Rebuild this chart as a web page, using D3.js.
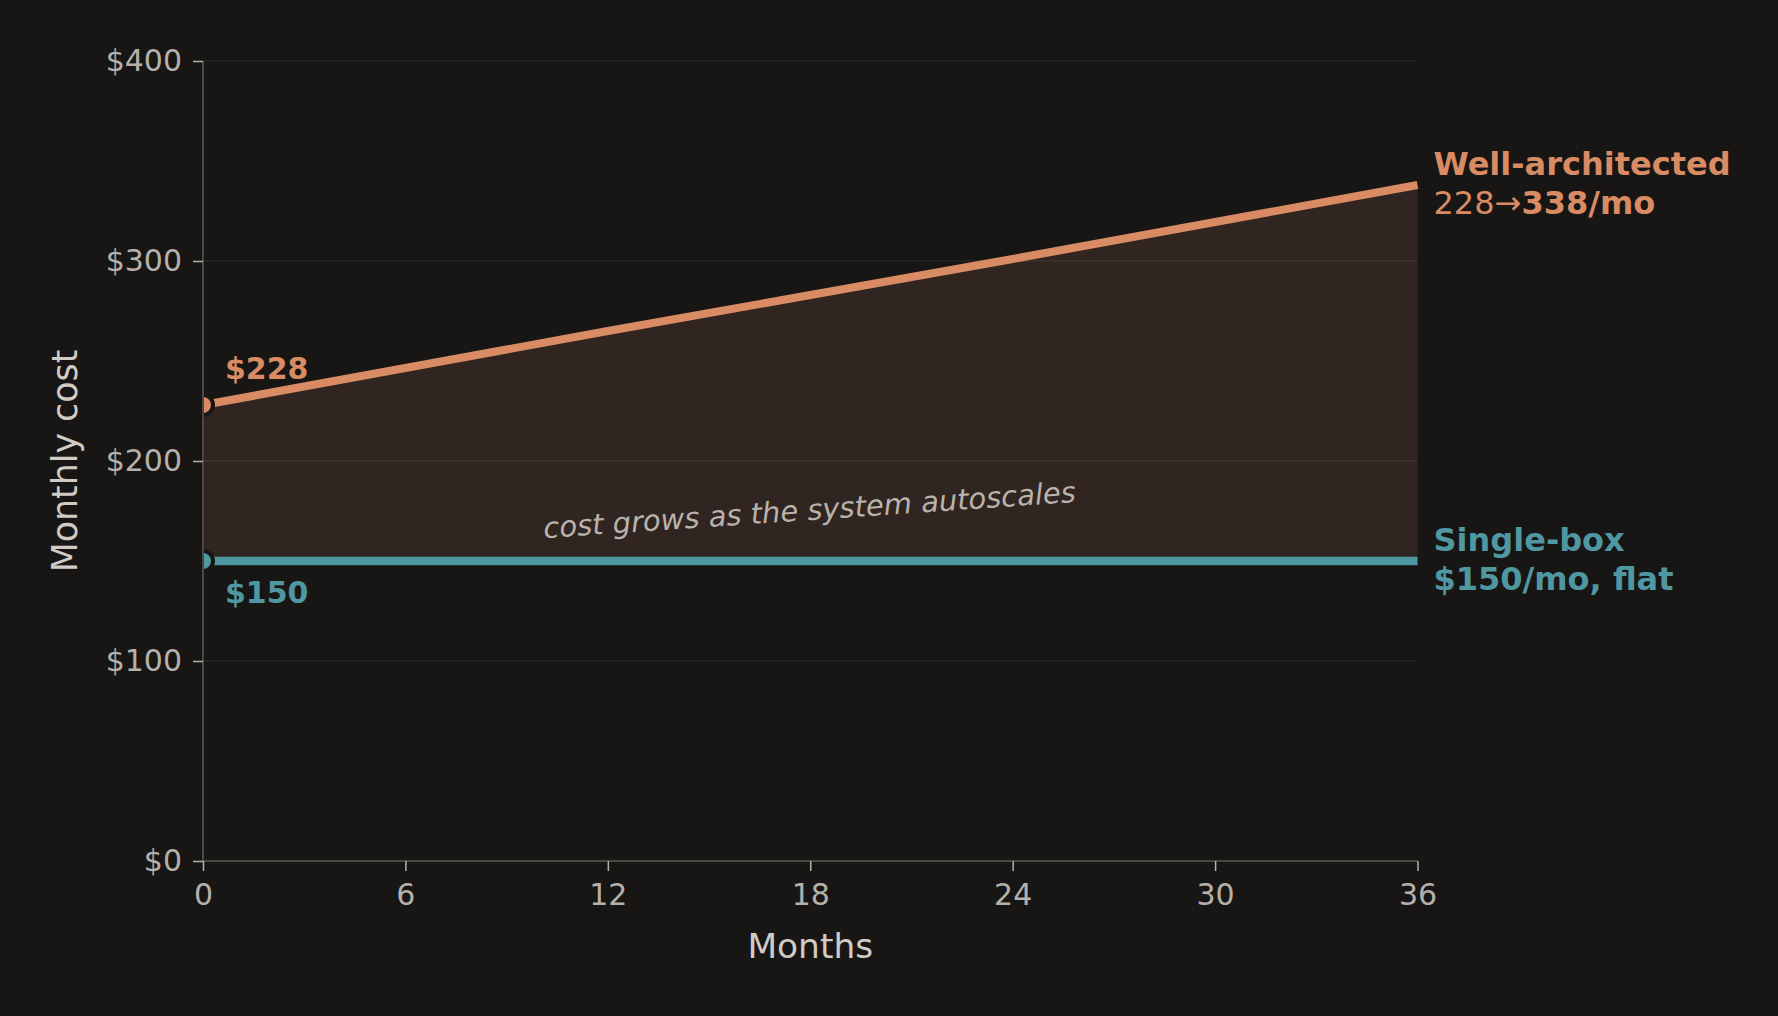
<!DOCTYPE html>
<html>
<head>
<meta charset="utf-8">
<script src="https://cdn.jsdelivr.net/npm/d3@7"></script>
<style>
  body { margin: 0; background: #171615; }
  text { font-family: "DejaVu Sans", sans-serif; }
</style>
</head>
<body>
<div id="chart"></div>
<script>
var svgWidth = 1778;
var svgHeight = 1016;

var margin = { top: 61, right: 360.5, bottom: 155, left: 203 };
var chartWidth = svgWidth - margin.left - margin.right;
var chartHeight = svgHeight - margin.top - margin.bottom;

// data
var months = [0, 12, 24, 36];
var wellArchitected = [228, 265, 301, 338];
var singleBox = [150, 150, 150, 150];
var xTicks = [0, 6, 12, 18, 24, 30, 36];
var yTicks = [0, 100, 200, 300, 400];

var orange = "#d98b64";
var teal = "#4f97a1";
var bg = "#171615";

var svg = d3.select("#chart")
  .append("svg")
  .attr("width", svgWidth)
  .attr("height", svgHeight);

svg.append("rect")
  .attr("width", svgWidth)
  .attr("height", svgHeight)
  .attr("fill", bg);

var chartGroup = svg.append("g")
  .attr("transform", `translate(${margin.left}, ${margin.top})`);

chartGroup.append("clipPath")
  .attr("id", "plotclip")
  .append("rect")
  .attr("width", chartWidth)
  .attr("height", chartHeight);

var xScale = d3.scaleLinear().domain([0, 36]).range([0, chartWidth]);
var yScale = d3.scaleLinear().domain([0, 400]).range([chartHeight, 0]);

var rows = months.map(function(m, i) {
  return { month: m, well: wellArchitected[i], single: singleBox[i] };
});

// shaded gap between the two lines
var area = d3.area()
  .x(d => xScale(d.month))
  .y0(d => yScale(d.single))
  .y1(d => yScale(d.well));

chartGroup.append("path")
  .datum(rows)
  .attr("d", area)
  .attr("fill", "#302520");

// gridlines
chartGroup.append("g")
  .selectAll("line")
  .data(yTicks.filter(t => t > 0))
  .enter()
  .append("line")
  .attr("x1", 0)
  .attr("x2", chartWidth)
  .attr("y1", d => yScale(d))
  .attr("y2", d => yScale(d))
  .attr("stroke", "#ffffff")
  .attr("stroke-opacity", 0.07)
  .attr("stroke-width", 1.5);

// axes
var bottomAxis = d3.axisBottom(xScale).tickValues(xTicks).tickSize(10).tickPadding(13);
var leftAxis = d3.axisLeft(yScale).tickValues(yTicks).tickSize(10).tickPadding(11)
  .tickFormat(d => "$" + d);

var xAxisG = chartGroup.append("g")
  .attr("transform", `translate(0, ${chartHeight})`)
  .call(bottomAxis);

var yAxisG = chartGroup.append("g")
  .call(leftAxis);

[xAxisG, yAxisG].forEach(function(g) {
  g.select(".domain").attr("stroke", "#4a4845").attr("stroke-width", 2);
  g.selectAll(".tick line").attr("stroke", "#b5b0aa").attr("stroke-width", 1.5);
  g.selectAll(".tick text")
    .attr("fill", "#b5b0aa")
    .attr("font-size", "30px")
    .attr("font-family", "DejaVu Sans, sans-serif");
});
yAxisG.select(".domain").attr("d", `M0,${chartHeight}V0`);
xAxisG.select(".domain").attr("d", `M0,0H${chartWidth}`);

chartGroup.append("text")
  .attr("x", chartWidth / 2)
  .attr("y", chartHeight + 97)
  .attr("text-anchor", "middle")
  .attr("fill", "#d0cbc5")
  .attr("font-size", "34.4px")
  .text("Months");

chartGroup.append("text")
  .attr("transform", "rotate(-90)")
  .attr("x", -chartHeight / 2)
  .attr("y", -126)
  .attr("text-anchor", "middle")
  .attr("fill", "#d0cbc5")
  .attr("font-size", "34.8px")
  .text("Monthly cost");

// lines
var lineWell = d3.line().x(d => xScale(d.month)).y(d => yScale(d.well));
var lineSingle = d3.line().x(d => xScale(d.month)).y(d => yScale(d.single));

chartGroup.append("path")
  .datum(rows)
  .attr("d", lineSingle)
  .attr("fill", "none")
  .attr("stroke", teal)
  .attr("stroke-width", 8.5);

chartGroup.append("path")
  .datum(rows)
  .attr("d", lineWell)
  .attr("fill", "none")
  .attr("stroke", orange)
  .attr("stroke-width", 8);

// start dots, clipped to the plot
var dots = chartGroup.append("g").attr("clip-path", "url(#plotclip)");
[[wellArchitected[0], orange], [singleBox[0], teal]].forEach(function(p) {
  dots.append("circle")
    .attr("cx", xScale(months[0]))
    .attr("cy", yScale(p[0]))
    .attr("r", 10)
    .attr("fill", p[1])
    .attr("stroke", bg)
    .attr("stroke-width", 4);
});
yAxisG.raise();

// start value labels
chartGroup.append("text")
  .attr("x", xScale(months[0]) + 22)
  .attr("y", yScale(wellArchitected[0]) - 26)
  .attr("fill", orange)
  .attr("font-size", "30px")
  .attr("font-weight", "bold")
  .text("$" + wellArchitected[0]);

chartGroup.append("text")
  .attr("x", xScale(months[0]) + 22)
  .attr("y", yScale(singleBox[0]) + 42)
  .attr("fill", teal)
  .attr("font-size", "30px")
  .attr("font-weight", "bold")
  .text("$" + singleBox[0]);

// end labels
var last = months.length - 1;
var endX = xScale(months[last]) + 16;

var wellLabel = chartGroup.append("text")
  .attr("x", endX)
  .attr("y", yScale(wellArchitected[last]) - 10)
  .attr("fill", orange)
  .attr("font-size", "32px");
wellLabel.append("tspan").attr("font-weight", "bold").text("Well-architected");
var l2 = wellLabel.append("tspan").attr("x", endX).attr("dy", 38.5);
l2.append("tspan").text(wellArchitected[0] + "→");
l2.append("tspan").attr("font-weight", "bold").text(wellArchitected[last] + "/mo");

var singleLabel = chartGroup.append("text")
  .attr("x", endX)
  .attr("y", yScale(singleBox[last]) - 10)
  .attr("fill", teal)
  .attr("font-size", "32px")
  .attr("font-weight", "bold");
singleLabel.append("tspan").text("Single-box");
singleLabel.append("tspan").attr("x", endX).attr("dy", 39).text("$" + singleBox[last] + "/mo, flat");

// annotation in the gap
var noteX = xScale(18), noteY = yScale(170.5);
chartGroup.append("text")
  .attr("transform", `translate(${noteX}, ${noteY}) rotate(-3.9)`)
  .attr("text-anchor", "middle")
  .attr("fill", "#bab3ab")
  .attr("font-size", "29px")
  .attr("font-style", "italic")
  .text("cost grows as the system autoscales");
</script>
</body>
</html>
